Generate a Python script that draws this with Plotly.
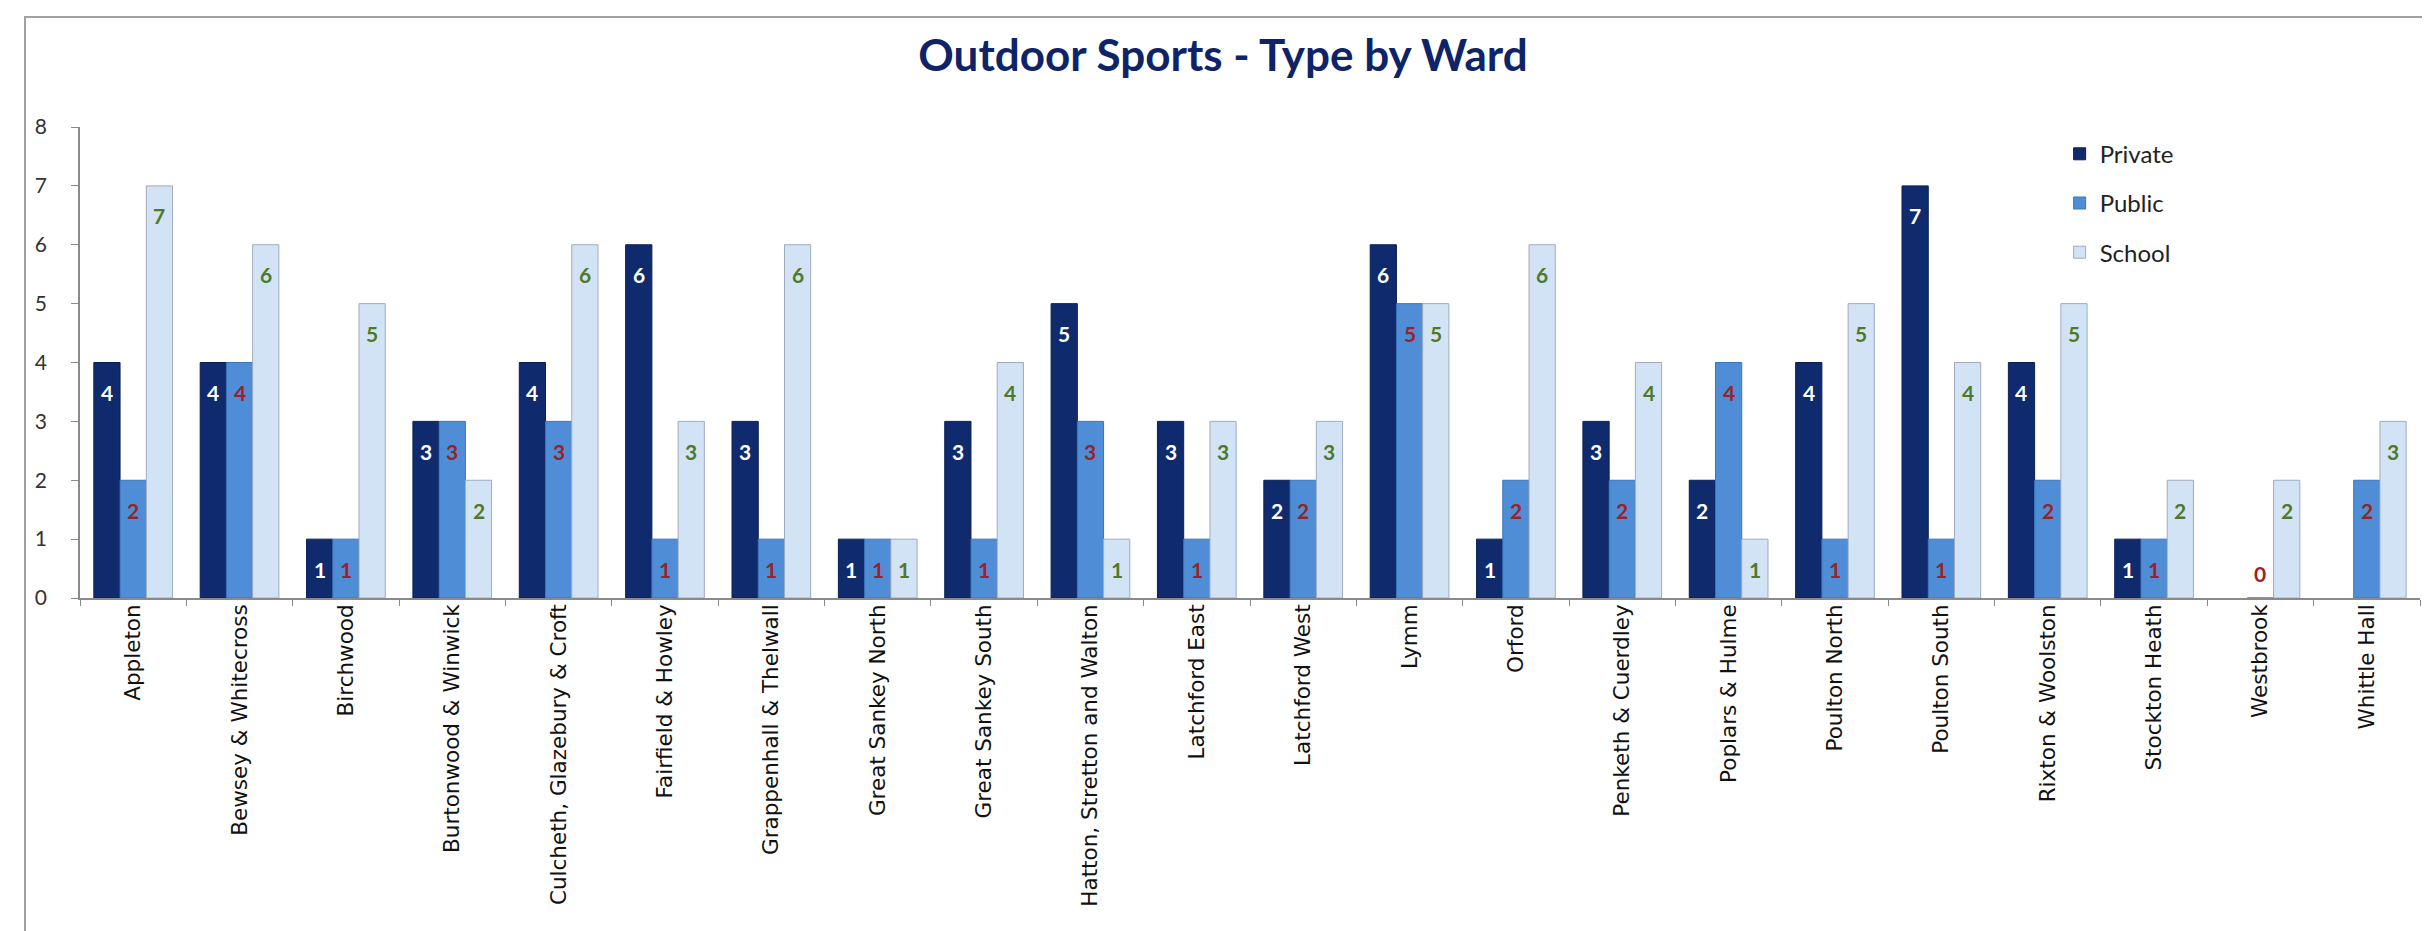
import plotly.graph_objects as go

wards = ["Appleton", "Bewsey & Whitecross", "Birchwood", "Burtonwood & Winwick",
         "Culcheth, Glazebury & Croft", "Fairfield & Howley", "Grappenhall & Thelwall",
         "Great Sankey North", "Great Sankey South", "Hatton, Stretton and Walton",
         "Latchford East", "Latchford West", "Lymm", "Orford", "Penketh & Cuerdley",
         "Poplars & Hulme", "Poulton North", "Poulton South", "Rixton & Woolston",
         "Stockton Heath", "Westbrook", "Whittle Hall"]
private = [4, 4, 1, 3, 4, 6, 3, 1, 3, 5, 3, 2, 6, 1, 3, 2, 4, 7, 4, 1, None, None]
public = [2, 4, 1, 3, 3, 1, 1, 1, 1, 3, 1, 2, 5, 2, 2, 4, 1, 1, 2, 1, 0, 2]
school = [7, 6, 5, 2, 6, 3, 6, 1, 4, 1, 3, 3, 5, 6, 4, 1, 5, 4, 5, 2, 2, 3]

series = [
    ("Private", private, "#102b6d", "#0a1f55", "white"),
    ("Public", public, "#4f8ed6", "#3a74bb", "#9b2226"),
    ("School", school, "#d3e3f6", "#9fabbd", "#4e7a27"),
]

W, H = 2430, 931
ml, mr, mt, mb = 72, 18, 119, 341
bargap = 0.26
# pixel width of one bar, used to place each value label over its own bar
bar_w = (W - ml - mr) / len(wards) * (1 - bargap) / len(series)

fig = go.Figure()
annotations = []
for i, (name, vals, color, edge, tcolor) in enumerate(series):
    fig.add_trace(go.Bar(
        name=name, x=wards, y=vals,
        marker=dict(color=color, line=dict(color=edge, width=1)),
        legendgroup=name,
    ))
    for w, v in zip(wards, vals):
        if v is None:
            continue
        annotations.append(dict(
            x=w, y=v, xref="x", yref="y", text="<b>%d</b>" % v, showarrow=False,
            xshift=(i - 1) * bar_w, yshift=25 if v == 0 else -30,
            font=dict(family="Lato", size=21, color=tcolor),
        ))

fig.update_layout(
    width=W, height=H,
    barmode="group", bargap=bargap, bargroupgap=0,
    paper_bgcolor="white", plot_bgcolor="white",
    margin=dict(l=ml, r=mr, t=mt, b=mb),
    title=dict(text="<b>Outdoor Sports - Type by Ward</b>", x=0.5, xanchor="center",
               y=0.949, yanchor="middle",
               font=dict(family="Lato", size=44, color="#0f2468")),
    legend=dict(x=0.846, y=0.99, xanchor="left", yanchor="top",
                font=dict(family="Lato", size=24, color="#222"),
                tracegroupgap=15, bgcolor="rgba(0,0,0,0)"),
    annotations=annotations,
    shapes=[dict(type="rect", xref="paper", yref="paper", x0=-0.0235, x1=1.0077,
                 y0=-0.722, y1=1.2335, line=dict(color="#a0a0a0", width=2))],
)
fig.update_xaxes(
    tickangle=-90, tickfont=dict(family="DejaVu Sans", size=21.5, color="#111"),
    showline=True, linecolor="#8a8a8a", linewidth=1.5,
    ticks="outside", tickson="boundaries", ticklen=6, tickcolor="#8a8a8a",
    ticklabelstandoff=-4, showgrid=False,
)
fig.update_yaxes(
    range=[0, 8], dtick=1, tickfont=dict(family="Lato", size=21, color="#333"),
    showline=True, linecolor="#8a8a8a", linewidth=1.5,
    ticks="outside", ticklen=7, tickcolor="#8a8a8a", ticklabelstandoff=20,
    showgrid=False, zeroline=False,
)

fig.write_html("out.html")
